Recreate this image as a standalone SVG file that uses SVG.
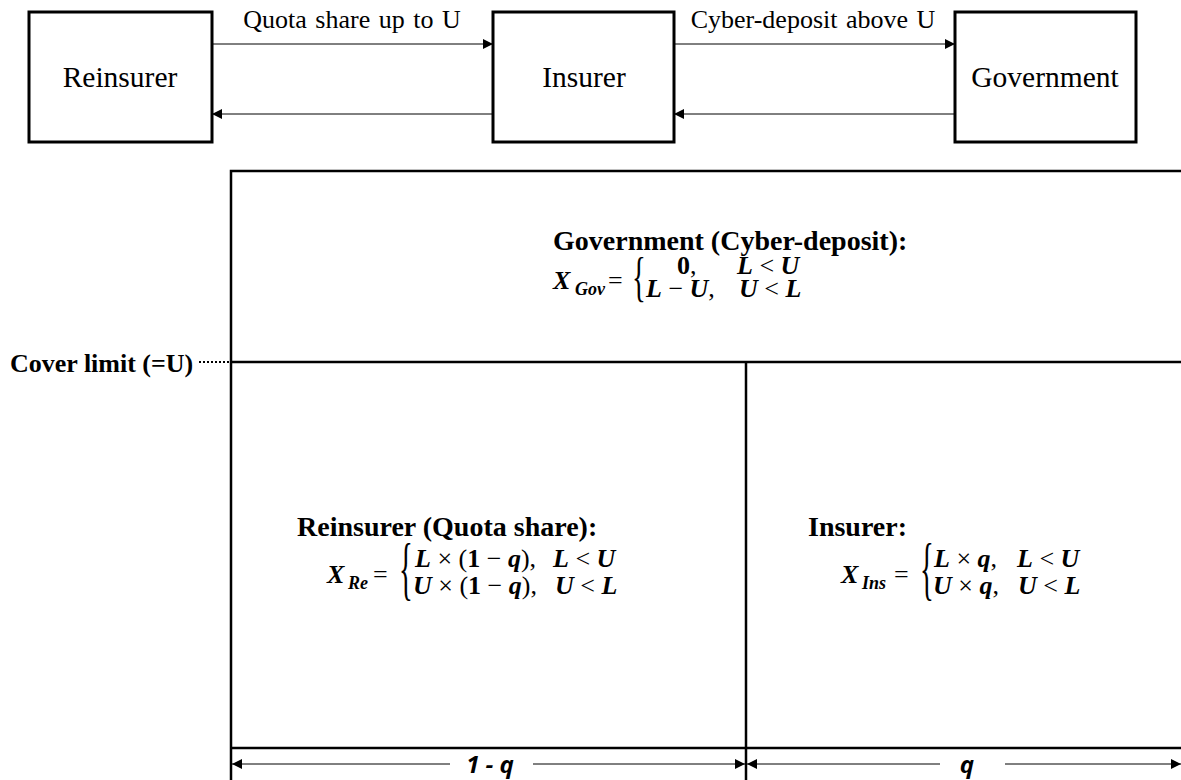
<svg xmlns="http://www.w3.org/2000/svg" width="1181" height="780" viewBox="0 0 1181 780">
  <style>
    .box { fill: #fff; stroke: #000; stroke-width: 3; }
    .frame { fill: none; stroke: #000; stroke-width: 2.5; }
    .flow { fill: none; stroke: #000; stroke-width: 1; }
    .lbl { font-family: "Liberation Serif", "Times New Roman", serif; fill: #000; }
    .node { font-size: 29.5px; text-anchor: middle; }
    .edge { font-size: 26px; text-anchor: middle; word-spacing: 2px; }
    .head { font-size: 28px; font-weight: bold; }
    .math { font-family: "Liberation Serif", "Times New Roman", serif; font-size: 26px; fill: #000; }
    .v { font-weight: bold; font-style: italic; }
    .n { font-weight: bold; }
    .sub { font-family: "Liberation Serif", "Times New Roman", serif; font-size: 18px; font-weight: bold; font-style: italic; fill: #000; }
    .brace { font-family: "Liberation Serif", "Times New Roman", serif; font-size: 36px; fill: #000; }
    .dim { font-family: "Open Sans", "Liberation Sans", sans-serif; font-size: 24px; font-weight: bold; font-style: italic; text-anchor: middle; fill: #000; }
  </style>
  <defs>
    <marker id="tip" viewBox="0 0 10 10" refX="10" refY="5" markerWidth="11" markerHeight="10" markerUnits="userSpaceOnUse" orient="auto">
      <path d="M0,0 L10,5 L0,10 z" fill="#000"/>
    </marker>
  </defs>
  <rect width="1181" height="780" fill="#fff"/>

  <!-- parties -->
  <g id="node-reinsurer">
    <rect class="box" x="29" y="12" width="183" height="130"/>
    <text class="lbl node" x="120" y="87">Reinsurer</text>
  </g>
  <g id="node-insurer">
    <rect class="box" x="493" y="12" width="181" height="130"/>
    <text class="lbl node" x="584" y="87">Insurer</text>
  </g>
  <g id="node-government">
    <rect class="box" x="955" y="12" width="181" height="130"/>
    <text class="lbl node" x="1045" y="87">Government</text>
  </g>

  <!-- flows between parties -->
  <g id="connectors">
    <line class="flow" x1="212" y1="44" x2="493" y2="44" marker-end="url(#tip)"/>
    <line class="flow" x1="493" y1="114" x2="212" y2="114" marker-end="url(#tip)"/>
    <line class="flow" x1="674" y1="44" x2="955" y2="44" marker-end="url(#tip)"/>
    <line class="flow" x1="955" y1="114" x2="674" y2="114" marker-end="url(#tip)"/>
    <text class="lbl edge" x="352" y="28">Quota share up to U</text>
    <text class="lbl edge" x="813" y="28">Cyber-deposit above U</text>
  </g>

  <!-- loss layers -->
  <g id="layers">
    <polyline class="frame" points="1181,171 231,171 231,780"/>
    <line class="frame" x1="231" y1="362" x2="1181" y2="362"/>
    <line class="frame" x1="746" y1="362" x2="746" y2="780"/>
    <line class="frame" x1="231" y1="748" x2="1181" y2="748"/>
  </g>

  <!-- cover limit marker -->
  <g id="cover-limit">
    <line x1="199" y1="362" x2="230" y2="362" stroke="#000" stroke-width="2" stroke-dasharray="2 2"/>
    <text class="lbl" x="10" y="372" font-size="26" font-weight="bold">Cover limit (=U)</text>
  </g>

  <!-- government layer -->
  <g id="node-gov-layer">
    <text class="lbl head" x="553" y="250">Government (Cyber-deposit):</text>
    <text class="math v" x="553" y="289">X</text>
    <text class="sub" x="575" y="295">Gov</text>
    <text class="math" x="608" y="289">=</text>
    <text class="brace" transform="translate(632 281) scale(0.8 1.5)" y="9">{</text>
    <text class="math" x="677" y="274"><tspan class="n">0</tspan>,</text>
    <text class="math" x="737" y="274"><tspan class="v">L</tspan> &lt; <tspan class="v">U</tspan></text>
    <text class="math" x="646" y="297"><tspan class="v">L</tspan> − <tspan class="v">U</tspan>,</text>
    <text class="math" x="739" y="297"><tspan class="v">U</tspan> &lt; <tspan class="v">L</tspan></text>
  </g>

  <!-- reinsurer layer -->
  <g id="node-re-layer">
    <text class="lbl head" x="297" y="536">Reinsurer (Quota share):</text>
    <text class="math v" x="327" y="583">X</text>
    <text class="sub" x="348" y="589">Re</text>
    <text class="math" x="373" y="583">=</text>
    <text class="brace" transform="translate(399 574) scale(0.8 1.95)" y="9">{</text>
    <text class="math" x="415" y="567"><tspan class="v">L</tspan> × (<tspan class="n">1</tspan> − <tspan class="v">q</tspan>),</text>
    <text class="math" x="553" y="567"><tspan class="v">L</tspan> &lt; <tspan class="v">U</tspan></text>
    <text class="math" x="413" y="594"><tspan class="v">U</tspan> × (<tspan class="n">1</tspan> − <tspan class="v">q</tspan>),</text>
    <text class="math" x="555" y="594"><tspan class="v">U</tspan> &lt; <tspan class="v">L</tspan></text>
  </g>

  <!-- insurer layer -->
  <g id="node-ins-layer">
    <text class="lbl head" x="808" y="536">Insurer:</text>
    <text class="math v" x="841" y="583">X</text>
    <text class="sub" x="862" y="589">Ins</text>
    <text class="math" x="894" y="583">=</text>
    <text class="brace" transform="translate(920 574) scale(0.8 1.95)" y="9">{</text>
    <text class="math" x="934" y="567"><tspan class="v">L</tspan> × <tspan class="v">q</tspan>,</text>
    <text class="math" x="1017" y="567"><tspan class="v">L</tspan> &lt; <tspan class="v">U</tspan></text>
    <text class="math" x="933" y="594"><tspan class="v">U</tspan> × <tspan class="v">q</tspan>,</text>
    <text class="math" x="1018" y="594"><tspan class="v">U</tspan> &lt; <tspan class="v">L</tspan></text>
  </g>

  <!-- share dimensions -->
  <g id="dimensions">
    <line class="flow" x1="450" y1="764" x2="232" y2="764" marker-end="url(#tip)"/>
    <line class="flow" x1="533" y1="764" x2="745" y2="764" marker-end="url(#tip)"/>
    <line class="flow" x1="940" y1="764" x2="747" y2="764" marker-end="url(#tip)"/>
    <line class="flow" x1="1005" y1="764" x2="1181" y2="764" marker-end="url(#tip)"/>
    <text class="dim" x="490" y="773">1 - q</text>
    <text class="dim" x="967" y="773">q</text>
  </g>
</svg>
